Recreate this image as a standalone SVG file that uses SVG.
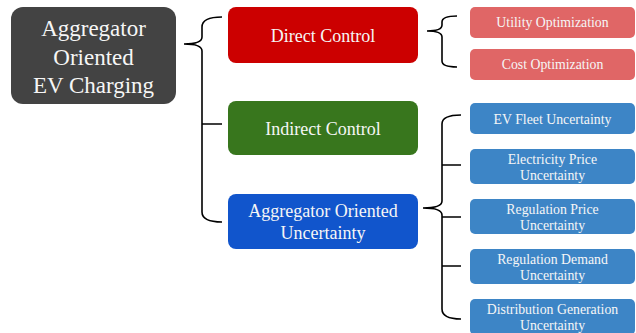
<svg xmlns="http://www.w3.org/2000/svg" width="636" height="333" viewBox="0 0 636 333">
<style>
text{font-family:"Liberation Serif","Times New Roman",serif;fill:#f6f6f6;text-anchor:middle}
.big{font-size:23px}
.mid{font-size:18px}
.sm{font-size:13.8px}
.br{fill:none;stroke:#000;stroke-width:1.6}
</style>
<rect width="636" height="333" fill="#fff"/>
<g id="connectors">
<path class="br" d="M222,17 Q202,17 202,27 L202,37 Q202,44 184,44 Q202,44 202,51 L202,212 Q202,222 222,222 M202,124 L222,124"/>
<path class="br" d="M457,16 Q442,16 442,22 L442,25 Q442,31 427,31 Q442,31 442,37 L442,61 Q442,67 457,67"/>
<path class="br" d="M461,115 Q442,115 442,124 L442,201 Q442,208 423,208 Q442,208 442,215 L442,309 Q442,319 461,319 M442,165 L461,165 M442,217 L461,217 M442,266 L461,266"/>
</g>
<g id="root">
<rect x="11" y="7" width="165" height="97" rx="12" fill="#434343"/>
<text class="big" x="93.5" y="36">Aggregator</text>
<text class="big" x="93.5" y="64.5">Oriented</text>
<text class="big" x="93.5" y="93">EV Charging</text>
</g>
<g id="direct">
<rect x="228" y="7" width="190" height="56" rx="8" fill="#cc0000"/>
<text class="mid" x="323" y="42">Direct Control</text>
</g>
<g id="indirect">
<rect x="228" y="101" width="190" height="54" rx="8" fill="#38761d"/>
<text class="mid" x="323" y="135">Indirect Control</text>
</g>
<g id="aou">
<rect x="228" y="194" width="190" height="55" rx="8" fill="#1155cc"/>
<text class="mid" x="323" y="217">Aggregator Oriented</text>
<text class="mid" x="323" y="239">Uncertainty</text>
</g>
<g id="utility">
<rect x="470" y="7" width="165" height="31" rx="5" fill="#e06666"/>
<text class="sm" x="552.5" y="27">Utility Optimization</text>
</g>
<g id="cost">
<rect x="470" y="49" width="165" height="31" rx="5" fill="#e06666"/>
<text class="sm" x="552.5" y="68.5">Cost Optimization</text>
</g>
<g id="evfleet">
<rect x="470" y="103" width="165" height="31" rx="5" fill="#3d85c6"/>
<text class="sm" x="552.5" y="124">EV Fleet Uncertainty</text>
</g>
<g id="elecprice">
<rect x="470" y="149" width="165" height="35" rx="5" fill="#3d85c6"/>
<text class="sm" x="552.5" y="164">Electricity Price</text>
<text class="sm" x="552.5" y="179.5">Uncertainty</text>
</g>
<g id="regprice">
<rect x="470" y="199" width="165" height="35" rx="5" fill="#3d85c6"/>
<text class="sm" x="552.5" y="214">Regulation Price</text>
<text class="sm" x="552.5" y="229.5">Uncertainty</text>
</g>
<g id="regdemand">
<rect x="470" y="249" width="165" height="35" rx="5" fill="#3d85c6"/>
<text class="sm" x="552.5" y="264">Regulation Demand</text>
<text class="sm" x="552.5" y="279.5">Uncertainty</text>
</g>
<g id="distgen">
<rect x="470" y="299" width="165" height="36" rx="5" fill="#3d85c6"/>
<text class="sm" x="552.5" y="314">Distribution Generation</text>
<text class="sm" x="552.5" y="329.5">Uncertainty</text>
</g>
</svg>
